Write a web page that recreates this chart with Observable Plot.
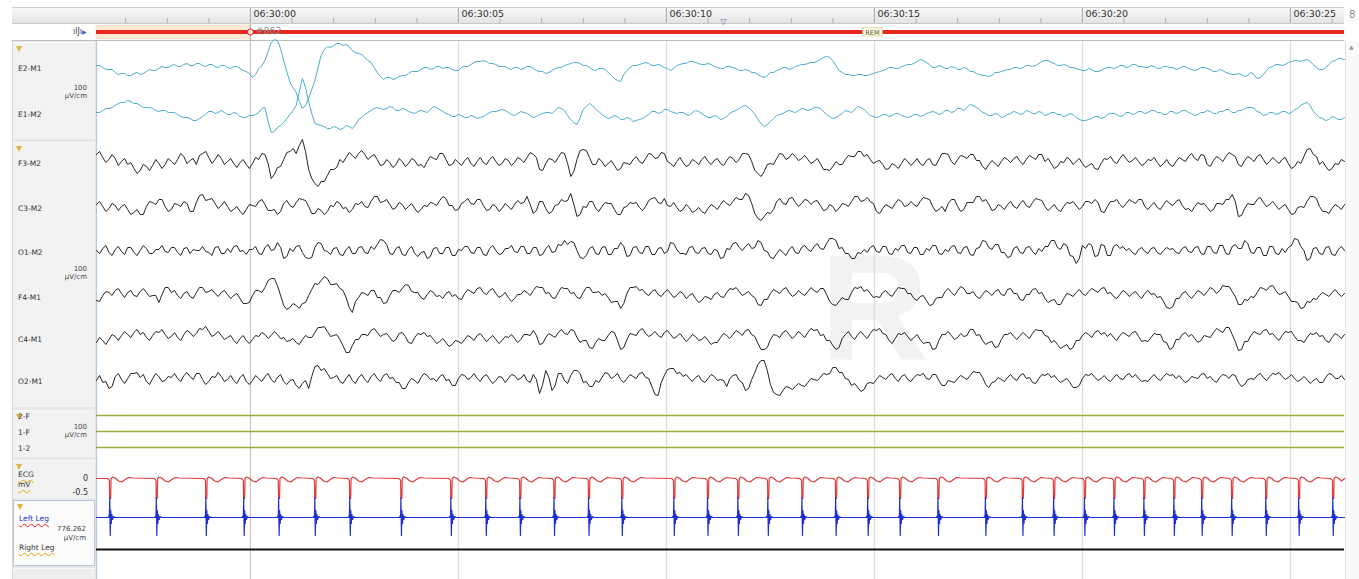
<!DOCTYPE html>
<html><head><meta charset="utf-8">
<script src="https://cdn.jsdelivr.net/npm/d3@7"></script>
<script src="https://cdn.jsdelivr.net/npm/@observablehq/plot@0.6"></script>
<style>
body{margin:0;background:#fff;font-family:"DejaVu Sans",Verdana,sans-serif;}
#wrap{position:relative;width:1359px;height:579px;overflow:hidden;background:#fff;}
#wrap svg{position:absolute;left:0;top:0;}
.abs{position:absolute;box-sizing:border-box;}
.lbl{position:absolute;font-size:7.5px;color:#333;white-space:nowrap;line-height:1;transform:translateY(-50%);}
</style></head><body>
<div id="wrap"></div>
<script>
// ---- time base (seconds relative to 06:30:00) ----
const epochStart = -3.7, epochEnd = 26.3, sampleStep = 0.15;
const tickTimes = [0, 5, 10, 15, 20, 25];
const tickLabels = ["06:30:00", "06:30:05", "06:30:10", "06:30:15", "06:30:20", "06:30:25"];
const epochs = [{n: 861, start: -30, end: 0, stage: "REM"}, {n: 862, start: 0, end: 30, stage: "REM"}];
const bookmarks = [11.37];

// ---- signals: deflection per sample (screen units, 100 µV/cm); *Mid = samples half-way between ----
const e2m1 = [3,1,-1,-4,-5,-7,-5,-6,-3,-2,0,1,3,2,4,3,5,3,4,2,3,1,2,0,-3,-9,
0,8,26,28,8,-14,-24,-40,-30,-12,13,22,23,25,24,18,15,11,6,-4,-11,-9,-10,-7,-5,
-3,-1,1,0,2,1,-1,-2,2,4,7,8,5,4,2,0,1,-1,2,0,-3,-5,-2,1,3,5,6,3,1,-2,0,-4,-10,-13,-2,3,4,6,3,4,1,-2,3,5,7,6,4,5,2,0,
2,1,-2,-1,-4,-6,-9,-4,-2,1,-1,2,4,5,6,9,12,8,-2,-6,-7,-6,-7,-6,-4,-2,1,0,2,4,5,9,6,1,3,0,2,-1,1,-3,-5,-7,-8,-4,-3,-1,1,0,3,2,
5,8,6,3,4,1,0,-2,0,-3,-2,1,0,3,1,4,2,1,3,0,2,1,-1,2,0,-2,1,0,-3,-1,-4,-6,-5,-8,-4,-10,-6,1,4,3,6,8,7,9,4,-1,1,7,10,9];
const e2m1Mid = [3,-1,-1,-6,-5,-7,-4,-5,-1,-2,2,1,4,2,5,3,5,2,4,1,3,0,2,-2,-5,-6,3,17,29,20,
-3,-19,-33,-37,-21,1,19,21,25,23,22,16,14,8,1,-8,-9,-11,-8,-7,-3,-3,1,-1,2,0,1,-2,1,2,
6,7,7,5,2,2,-1,1,0,2,-2,-3,-4,0,1,4,6,5,3,-1,0,-1,-7,-12,-6,1,3,5,5,3,3,0,0,4,5,7,5,4,4,1,
0,2,0,-2,-2,-4,-8,-7,-4,-1,1,0,3,4,6,7,11,11,3,-4,-6,-7,-6,-7,-5,-3,-1,1,0,3,4,7,8,4,1,2,0,1,-1,0,
-3,-6,-7,-7,-4,-2,-1,1,1,3,3,7,8,5,3,3,1,-1,-2,-1,-3,0,1,1,3,2,4,2,1,2,0,2,1,0,2,-1,-1,1,-1,-3,
-2,-5,-6,-6,-7,-6,-9,-2,2,4,4,7,8,8,7,1,-1,4,8,10];
const e1m2 = [1,3,5,8,11,13,10,8,6,5,2,3,1,-1,-4,-5,-7,-3,2,0,3,-1,1,-3,-4,-2,
1,6,-19,-14,-9,-1,8,35,12,-10,-12,-15,-13,-16,-12,-15,-6,-1,3,6,4,7,3,5,2,
0,3,1,7,4,0,-3,-1,-4,-2,-5,-3,1,2,4,1,-2,2,0,-4,-1,1,0,6,3,-6,-11,4,10,4,-1,-5,-2,-6,-4,-8,-6,-3,2,0,4,2,0,1,-2,3,0,-4,-2,-6,
-3,2,5,8,3,-6,-13,-8,-2,0,3,1,5,3,6,5,-1,-5,-2,3,1,7,4,-2,-4,-1,-3,0,-2,-4,-1,-3,0,2,-1,3,1,5,3,9,6,1,-2,0,-4,-1,2,-1,3,0,
2,-2,1,-1,-3,0,-4,-7,-6,-3,-5,-1,0,-3,1,-1,2,0,3,1,-1,2,0,3,1,-2,1,3,0,2,4,1,3,5,6,2,-2,1,-1,2,0,4,8,11,2,-4,-7,-3,-6,-4];
const e1m2Mid = [1,5,6,10,11,12,10,6,6,3,3,1,1,-3,-4,-7,-5,-1,2,1,1,-1,0,-4,-2,-1,5,-8,-18,-12,
-5,3,22,26,0,-11,-13,-15,-14,-15,-13,-11,-4,1,5,5,5,6,3,4,1,2,2,4,6,2,-1,-3,-2,-4,
-3,-4,-1,2,3,3,-1,0,1,-2,-3,0,1,3,5,-2,-9,-4,7,8,2,-3,-4,-3,-6,-5,-7,-5,-1,2,1,4,1,1,-1,1,2,-2,-4,-3,
-5,0,3,7,6,-1,-10,-11,-5,-1,2,2,3,4,4,6,2,-3,-4,0,2,4,6,1,-3,-3,-1,-2,0,-3,-3,-1,-2,1,1,0,3,2,5,6,
8,4,0,-2,-1,-3,0,1,0,2,0,1,-1,1,-1,-2,-1,-6,-7,-5,-3,-4,0,-1,-2,1,0,2,1,3,1,-1,2,1,3,0,-1,1,2,0,
2,4,1,3,6,5,1,-1,1,0,2,1,5,10,8,-1,-5,-6,-4,-6];
const f3m2 = [7,4,2,3,0,-3,-7,-9,-5,-4,-2,-3,0,2,5,1,-3,8,4,2,3,0,-2,-1,-3,-2,2,7,-17,-6,
2,10,8,22,-8,-22,-20,-14,-8,2,4,6,8,7,5,2,-3,-1,-3,0,-2,1,-3,0,3,8,2,-3,-1,1,
-2,0,-1,2,0,-2,1,-1,2,4,7,-8,-2,2,4,8,-15,2,12,4,-3,0,-2,-4,-7,-2,2,0,3,7,
4,8,-2,0,-1,-3,0,2,0,1,-2,1,3,2,8,0,-12,-10,-2,3,7,4,5,3,2,0,-2,-8,-5,-3,
2,5,10,5,2,0,-3,-7,-4,-2,0,-1,-2,1,-3,2,8,0,2,5,7,1,-5,-3,-2,0,2,3,0,2,
4,7,0,-2,-5,-1,2,0,-2,-4,-7,-2,2,0,3,3,1,0,-2,1,-1,-2,-3,0,2,5,3,7,-3,1,
3,5,7,-3,1,3,5,2,0,1,2,-2,-5,-2,12,7,-3,-5,-7,-3,0];
const f3m2Mid = [10,-1,7,-4,3,-1,-12,-3,-9,2,-7,3,-3,8,-2,3,6,10,-2,7,
-3,3,-6,2,-7,4,8,-2,-13,-5,9,13,16,10,-17,-25,-20,-8,-6,-1,
9,3,11,2,7,-4,2,-6,3,-5,3,-4,-6,5,2,8,-4,2,-4,4,
-5,4,-3,5,-4,3,-4,4,-1,9,4,-9,3,-1,9,-2,-10,11,11,-3,
3,-5,1,-9,-1,-3,5,-2,8,3,9,0,-5,4,-5,2,-3,5,-3,3,
-4,5,-1,8,7,-9,-15,-3,-3,8,2,8,1,6,-2,3,-8,-9,0,-3,
6,5,10,7,-2,1,-8,-2,-7,3,-4,3,-4,3,-4,8,7,-3,6,3,
7,1,-8,1,-5,4,-1,5,-3,6,2,7,3,-7,0,4,-3,3,-6,-2,
-8,3,5,-2,7,-1,4,-4,2,4,-5,2,-5,4,0,8,1,6,-5,5,
0,9,5,-5,5,0,7,-3,4,-2,4,-7,0,5,13,5,0,-9,-2,2];
const c3m2 = [2,0,-2,1,0,-3,-6,-8,0,4,7,0,-3,2,5,-5,4,12,7,3,1,0,-3,-5,-3,1,5,2,-4,-8,
3,1,4,7,0,-7,-4,-5,0,3,-1,-3,2,0,5,10,5,2,-1,2,0,-2,-3,0,3,6,8,1,-3,5,
3,7,1,-3,0,-2,0,2,3,10,-7,5,-2,-5,2,5,13,-10,0,5,-2,0,3,-3,-8,0,3,-1,0,8,
4,8,0,-1,-3,-1,-4,-5,-2,0,2,3,5,7,13,3,-12,-10,-7,5,3,8,4,3,6,5,1,-3,0,-2,
2,5,10,6,5,-5,-2,0,3,5,1,2,5,8,0,-3,-5,7,0,-3,4,10,5,2,-3,0,2,0,3,1,
4,7,0,-1,-3,0,3,1,0,5,7,-5,0,5,2,3,5,7,0,1,-1,2,3,5,1,-2,0,2,-1,-3,
3,7,12,-10,-2,2,7,4,2,1,0,-3,-7,0,5,10,0,-5,-2,0,2];
const c3m2Mid = [5,-5,3,-4,2,-8,-3,-8,5,2,7,-5,3,0,3,-5,11,6,8,-2,
5,-5,0,-8,2,0,7,-4,-3,-5,6,-1,8,6,-7,-2,-8,1,5,-2,
-6,3,5,-1,10,4,7,-3,4,-3,3,-6,1,4,1,10,1,-4,3,8,
2,7,-4,2,-5,3,-3,6,4,2,-4,5,-7,1,7,6,2,-8,-1,5,
-5,4,3,-8,-1,4,4,-4,6,9,3,1,4,-5,2,-6,-1,-7,2,-3,
6,1,9,7,11,-7,-14,-6,-3,8,2,9,0,7,2,6,-4,2,-5,3,
0,10,5,9,3,-7,2,-2,7,0,5,0,9,7,-5,0,3,7,-5,4,
4,10,7,-4,2,-3,5,-2,6,-1,8,6,-4,2,-5,4,5,-3,5,3,
4,-6,5,7,-1,7,3,7,-3,4,-3,6,1,7,-3,-5,4,3,-5,3,
2,7,5,-9,3,2,9,0,5,-3,2,-8,-1,-1,10,8,-5,-7,2,-3];
const o1m2 = [0,2,-2,1,-1,3,-2,0,2,-3,1,-1,3,-2,2,-3,0,4,-2,3,-3,2,4,-1,-4,1,-3,3,0,8,
-8,2,4,-2,-8,3,7,-1,2,-4,1,-3,3,-2,4,6,10,-3,2,-4,1,-3,-2,-8,2,-3,3,-5,1,4,
-2,3,-4,2,0,-3,2,-1,4,-3,3,-5,2,-2,6,10,9,0,-8,2,-3,3,-4,2,8,-6,3,-2,4,-4,
2,-3,8,1,-3,3,-2,2,-3,1,-8,2,7,3,4,2,10,0,-7,-3,-2,1,-2,3,1,4,2,7,12,2,
-3,-8,-2,1,3,-1,4,-3,2,5,-2,3,-4,2,5,-3,1,4,-2,3,-4,2,10,3,6,-2,-7,2,-2,3,
-1,2,4,10,3,7,-5,-13,5,7,-6,6,-5,4,2,0,-2,1,-1,2,-2,0,1,-2,2,-1,3,-3,4,-2,
5,-3,4,2,10,-2,3,-5,4,-3,2,3,12,4,-10,2,-3,3,-4,1,0];
const o1m2Mid = [-3,5,-5,4,-4,3,-5,5,-3,1,5,-2,3,-5,3,1,0,-1,-5,4,
-3,-2,5,0,1,4,-4,6,1,3,-6,-1,5,-7,-7,8,0,-4,3,-5,
4,-3,4,-3,1,11,6,-4,4,-5,4,-6,-1,-6,3,-3,3,-5,0,4,
-3,3,-5,5,-4,2,5,-2,4,-3,3,-4,5,-1,5,6,8,-7,-5,4,
-4,4,-4,2,4,-5,4,-3,4,-4,3,-1,7,-3,-4,4,-3,3,-4,0,
-7,1,8,0,7,3,8,-1,-8,1,-5,4,-3,5,-1,7,1,12,10,3,
-3,-8,-3,-2,5,-2,4,-4,0,5,-3,3,-4,0,5,-4,-1,5,-3,4,
-5,3,9,1,6,-2,-6,4,-3,4,-4,-1,4,10,1,5,-6,-8,2,5,
-5,5,-5,6,4,2,-4,3,-3,3,-4,3,2,-3,4,-2,4,-4,4,-3,
5,-4,6,2,7,-3,3,-5,4,-4,-2,5,11,0,-8,3,-4,4,-5,4];
const f4m1 = [-5,0,3,5,2,3,0,4,3,0,-7,8,3,0,2,-1,3,8,4,2,3,1,0,-3,-8,0,5,8,17,10,
-10,-12,-10,-8,0,12,15,17,11,7,-2,-17,-2,2,5,-2,-8,0,5,7,10,3,-2,1,3,0,2,-1,-3,2,
4,7,3,5,2,0,-2,-3,1,3,5,8,2,-2,3,7,2,-2,3,8,3,0,-2,-6,-13,2,8,5,2,4,
1,3,2,0,2,0,-3,-5,-2,1,-1,3,6,4,2,0,-9,-4,2,4,6,3,1,2,4,5,7,1,-9,-6,
-4,3,7,4,2,-1,3,1,4,7,2,-3,-1,-5,-9,-2,4,3,5,7,2,-1,1,3,4,1,6,2,-4,1,
6,2,-3,-5,-9,-3,1,3,2,4,5,7,2,-1,1,3,2,0,2,1,-2,-6,-13,-3,2,0,1,3,4,6,
5,9,4,-9,-4,-1,3,7,9,5,2,-1,-6,-13,-6,-3,0,1,3,2,2];
const f4m1Mid = [-6,4,0,7,-2,5,-1,7,-1,0,1,8,5,-3,4,-3,8,3,6,-1,
5,-3,2,-8,-7,5,3,15,17,0,-14,-8,-13,-7,6,11,19,11,12,5,
-12,-6,3,0,5,-2,-7,5,3,11,4,3,-4,5,-1,-3,4,1,-4,6,
2,8,1,7,-2,3,-6,1,5,0,9,8,3,-3,8,7,3,-3,8,3,
4,2,-7,-6,-8,8,9,6,0,6,-1,6,-2,4,-3,2,-7,-1,-4,3,
-2,7,8,0,4,-2,-10,-4,6,2,8,-1,5,0,8,3,7,-6,-10,-2,
-4,8,9,6,-2,-2,5,-1,8,7,2,-5,0,-10,-3,-2,7,0,9,2,
4,-3,5,0,6,0,7,2,-5,1,7,3,-7,-4,-9,2,-1,6,0,7,
3,8,3,-3,5,-1,4,-3,5,2,-1,-12,-11,-3,4,-3,5,0,8,2,
10,9,-1,-9,-5,-2,8,5,10,1,4,-6,-7,-12,-7,-4,3,-1,6,-1];
const c4m1 = [-5,-3,-2,1,2,3,5,3,0,2,5,3,1,0,3,5,4,8,6,3,2,0,-3,-1,-3,-2,1,3,2,3,
0,-3,-5,-2,0,5,10,6,2,-2,-15,-8,-2,3,7,5,3,0,-2,5,-5,0,3,1,-2,-4,-5,-7,-4,-2,
0,2,0,-1,-2,-3,0,-1,-2,3,7,-7,0,2,5,4,8,0,-3,-10,-5,-3,2,5,-12,-2,3,7,4,3,
2,5,3,1,0,-1,1,-2,-3,-5,0,2,3,5,7,3,-6,-12,-2,2,5,3,2,3,5,7,2,-3,-8,-10,
3,1,3,2,4,7,4,-3,-1,3,1,0,-2,-5,-12,-3,3,2,0,1,8,2,-3,-5,-10,-2,3,1,2,2,
4,7,2,-5,-7,-9,-12,-3,2,3,5,3,1,0,2,3,5,1,-3,0,3,-4,-12,-2,3,1,-1,-3,1,5,
7,10,3,-13,-4,2,4,7,3,0,2,5,1,-3,0,3,1,-3,0,2,3];
const c4m1Mid = [0,-7,3,-3,6,0,8,5,-3,6,8,-1,5,-3,7,1,9,11,1,6,
-2,2,-6,2,-6,2,5,-1,6,-1,-4,-1,-7,2,0,10,11,1,3,-8,
-15,-2,3,2,9,1,4,-4,4,1,-6,4,5,2,-6,-1,-9,-3,-6,2,
-3,4,-4,2,-6,1,3,-5,3,2,2,-6,4,0,8,3,7,-5,-3,-11,
-1,-3,6,-3,-10,4,2,9,1,6,0,7,-1,4,-4,3,-3,1,-7,-5,
4,-1,7,2,8,1,-12,-10,3,0,7,-1,6,0,9,8,3,-3,-12,-1,
6,-2,6,-1,8,9,3,-6,4,5,-3,3,-6,-5,-11,3,6,-2,4,2,
8,3,-7,-4,-9,3,5,-2,5,-1,8,7,1,-3,-11,-7,-10,-3,5,0,
7,5,4,-3,5,1,6,-4,-4,4,3,-5,-10,-2,5,3,-5,2,0,9,
5,10,-4,-12,-4,6,3,8,4,-3,6,6,-3,-5,4,5,2,-5,4,-1];
const o2m1 = [-2,-4,-10,2,-1,0,5,1,-3,0,2,-2,1,0,3,2,5,-1,-3,1,2,-1,-2,1,-3,-2,0,2,-1,1,
-3,-2,-7,-5,-10,12,8,5,1,-3,0,-2,1,-1,2,0,3,0,-4,-10,-4,-2,1,3,0,2,-2,-7,0,3,
1,0,2,-1,-2,1,0,3,0,-2,4,-15,8,-12,5,-2,3,8,-4,-8,-2,1,5,2,-1,0,2,5,1,-8,
-17,3,10,5,2,0,1,-2,0,2,-1,-8,3,-2,-12,-1,14,18,-6,-16,-12,-9,-8,-7,-4,-1,1,4,11,6,
0,-7,-9,-11,-4,-1,1,3,0,2,-1,1,3,0,4,-2,-7,-3,0,1,3,6,1,-9,-3,-1,1,0,3,0,
-4,0,3,1,-1,-2,-4,-9,0,3,1,0,-1,1,0,3,1,0,-2,1,0,2,3,0,-1,-2,1,4,0,-2,
1,3,4,-4,-6,0,3,1,2,4,2,1,0,-1,-1,-2,-4,1,4,0,-1];
const o2m1Mid = [3,-3,-8,5,-5,5,6,4,-6,5,-3,2,5,-3,6,-1,5,-6,2,6,
-3,3,-5,4,-6,3,-3,5,-4,4,-6,-1,-10,-2,2,13,10,0,3,-5,
4,-5,4,-4,5,-3,5,1,-4,-10,0,-5,5,-1,-3,4,-1,-7,4,-1,
5,-3,4,-5,2,-4,4,-1,4,-4,-1,-6,1,-7,5,-5,8,5,-3,-8,
-4,6,0,5,-4,4,0,6,0,-16,-4,9,10,6,4,-3,3,-4,4,-2,
-2,0,4,-4,-10,6,18,8,-14,-17,-8,-11,-5,-8,0,-2,5,5,11,6,
-1,-5,-13,-5,-5,3,-1,5,-3,4,-3,4,5,-1,4,-7,-2,-4,3,-1,
7,6,-6,-4,1,-3,4,-2,5,1,-5,4,5,3,-4,0,-9,-7,4,5,
-2,3,-3,4,-1,5,4,-3,-3,4,-2,5,4,3,-4,2,0,5,2,-4,
4,0,3,-8,-1,-1,5,-2,5,6,-1,4,-3,2,-5,0,-4,5,0,3];

const ecgBeats = [-3.39,-2.27,-1.08,-0.17,0.67,1.54,2.38,3.61,4.81,5.65,6.47,7.29,8.12,8.92,10.17,10.98,11.71,12.43,13.25,14.06,14.83,15.60,16.52,17.66,18.55,19.30,20.04,20.75,21.47,22.19,22.86,23.58,24.40,25.19,26.01];
const ecgShape = [[-0.05,0],[-0.015,-1],[0,-2],[0.006,-20],[0.03,-20],[0.04,0],[0.08,1.5],[0.14,0.5],[0.22,-2.5],[0.3,-3.5],[0.38,-1],[0.46,1],[0.56,0.5]];
const legShape = [[-0.03,0],[-0.012,1.5],[0,0],[0.008,20],[0.02,-18],[0.032,7],[0.045,-6],[0.06,3],[0.075,-2],[0.1,1],[0.13,0]];

// ---- channel layout (vertical lane of each channel) ----
const lanes = {"E2-M1":68,"E1-M2":113,"F3-M2":161,"C3-M2":206,"O1-M2":250,"F4-M1":295,"C4-M1":337,"O2-M1":378,
  "2-F":415,"1-F":431,"1-2":447,"ECG":478,"Left Leg":517,"Right Leg":549};
const eogSignals = {"E2-M1": [e2m1, e2m1Mid], "E1-M2": [e1m2, e1m2Mid]};
const eegSignals = {"F3-M2": [f3m2, f3m2Mid], "C3-M2": [c3m2, c3m2Mid], "O1-M2": [o1m2, o1m2Mid],
  "F4-M1": [f4m1, f4m1Mid], "C4-M1": [c4m1, c4m1Mid], "O2-M1": [o2m1, o2m1Mid]};
const chinChannels = ["2-F", "1-F", "1-2"];

const toRows = sigs => Object.entries(sigs).flatMap(([ch, [even, mid]]) => {
  const rows = [];
  even.forEach((v, i) => {
    rows.push({ch, t: epochStart + i * sampleStep, y: lanes[ch] - v});
    if (i < mid.length) rows.push({ch, t: epochStart + (i + 0.5) * sampleStep, y: lanes[ch] - mid[i]});
  });
  return rows;
});
function beatSeries(ch, beats, shape) {
  const pts = [{t: epochStart, v: 0}];
  for (const b of beats) for (const [dt, v] of shape) {
    const t = b + dt; if (t > epochStart && t < epochEnd) pts.push({t, v});
  }
  pts.push({t: epochEnd, v: 0});
  pts.sort((a, b) => a.t - b.t);
  return pts.map(p => ({ch, t: p.t, y: lanes[ch] - p.v}));
}
const minorTicks = d3.range(-3, 27).filter(s => s % 5 !== 0);
const clampStart = d => Math.max(d.start, epochStart), clampEnd = d => Math.min(d.end, epochEnd);
const visibleEpochs = epochs.filter(d => d.end > epochStart && d.start < epochEnd);
const F = "DejaVu Sans";

const wrap = document.getElementById("wrap");
function box(css) { const e = document.createElement("div"); e.className = "abs"; e.style.cssText = css; wrap.appendChild(e); return e; }
box("left:12px;top:7px;width:1332px;height:17px;background:linear-gradient(#f8f8f8,#e3e3e3);border-top:1px solid #cfcfcf;border-bottom:1px solid #c8c8c8;");
box("left:12px;top:24px;width:1332px;height:17px;background:#fff;border-bottom:1px solid #bdbdbd;");
box("left:12px;top:41px;width:84px;height:538px;background:#e7e7e7;border-left:1px solid #d6d6d6;");
box("left:1345px;top:41px;width:14px;height:538px;background:#fafafa;border-left:1px solid #e4e4e4;");

const chart = Plot.plot({
  width: 1359, height: 579, margin: 0,
  x: {domain: [epochStart, epochEnd], range: [96, 1344], axis: null},
  y: {domain: [0, 579], range: [0, 579], axis: null},
  style: {background: "none", overflow: "visible", fontFamily: F},
  marks: [
    Plot.text(["R"], {x: 15, y: 310, text: d => d, fontSize: 150, fontWeight: "bold", fontFamily: "Liberation Sans", fill: "#f2f2f2"}),
    Plot.rect(visibleEpochs.filter(d => d.end <= 0), {x1: clampStart, x2: clampEnd, y1: 25, y2: 39, fill: "#fbe9d6", stroke: "#e9c9a9", strokeDasharray: "1,1", strokeWidth: 0.6}),
    Plot.ruleX(tickTimes, {y1: 41, y2: 579, stroke: d => d === 0 ? "#d7c6be" : "#dddddd", strokeWidth: 1.3}),
    Plot.ruleX([0], {y1: 24, y2: 41, stroke: "#cdb6ab", strokeWidth: 1.3}),
    Plot.ruleX([epochStart], {y1: 41, y2: 579, stroke: "#b5c9df", strokeWidth: 1.2}),
    Plot.ruleX(tickTimes, {y1: 8, y2: 23, stroke: "#a8a8a8", strokeWidth: 1}),
    Plot.ruleX(minorTicks, {y1: 18, y2: 23, stroke: "#b0b0b0", strokeWidth: 1}),
    Plot.text(tickTimes, {x: d => d, y: 13.5, text: (d, i) => tickLabels[i], textAnchor: "start", dx: 3, fontSize: 9.5, fill: "#333"}),
    Plot.text(bookmarks, {x: d => d, y: 21, text: () => "▽", fontSize: 8, fill: "#5b72c2"}),
    Plot.ruleY(visibleEpochs, {y: 31.5, x1: clampStart, x2: clampEnd, stroke: "#e8261e", strokeWidth: 4}),
    Plot.dot(visibleEpochs.filter(d => d.start >= epochStart), {x: "start", y: 31.5, r: 3, stroke: "#e8261e", fill: "#fbe3da", strokeWidth: 1}),
    Plot.text(visibleEpochs.filter(d => d.start >= epochStart), {x: "start", y: 30, text: d => "#" + d.n, textAnchor: "start", dx: 5, fontSize: 9.5, fill: "#8c8c8c"}),
    Plot.rect(visibleEpochs.filter(d => (d.start + d.end) / 2 > epochStart), {x1: d => (d.start + d.end) / 2 - 0.27, x2: d => (d.start + d.end) / 2 + 0.2, y1: 27.5, y2: 36, fill: "#fdf8e4", stroke: "#d6cfa8", strokeWidth: 0.8}),
    Plot.text(visibleEpochs.filter(d => (d.start + d.end) / 2 > epochStart), {x: d => (d.start + d.end) / 2, y: 32, dx: -2, text: "stage", fontSize: 6.5, fill: "#4d5a2a"}),
    Plot.line(toRows(eogSignals), {x: "t", y: "y", z: "ch", stroke: "#4aadca", strokeWidth: 1}),
    Plot.line(toRows(eegSignals), {x: "t", y: "y", z: "ch", stroke: "#161616", strokeWidth: 0.95}),
    Plot.ruleY(chinChannels, {y: d => lanes[d], x1: epochStart, x2: epochEnd, stroke: "#9aae3c", strokeWidth: 1.6}),
    Plot.line(beatSeries("ECG", ecgBeats, ecgShape), {x: "t", y: "y", stroke: "#e23b3b", strokeWidth: 1.2}),
    Plot.line(beatSeries("Left Leg", ecgBeats, legShape), {x: "t", y: "y", stroke: "#1f2fd6", strokeWidth: 1.2}),
    Plot.ruleY(["Right Leg"], {y: d => lanes[d], x1: epochStart, x2: epochEnd, stroke: "#111", strokeWidth: 2})
  ]
});
wrap.appendChild(chart);

// ---- left channel panel ----
const panelBoxes = [
  {top: 42, bottom: 139, fill: "#f2f2f2"}, {top: 142, bottom: 407, fill: "#f2f2f2"},
  {top: 410, bottom: 457, fill: "#f2f2f2"}, {top: 460, bottom: 498, fill: "#f2f2f2"},
  {top: 500, bottom: 566, fill: "#fbfbfb", border: "#b7c6da"}, {top: 568, bottom: 579, fill: "#eeeeee"}
];
const boxes = panelBoxes.map((b, i) => {
  const e = box(`left:13px;top:${b.top}px;width:82px;height:${b.bottom - b.top}px;background:${b.fill};overflow:hidden;` +
    (b.border ? `border:1px solid ${b.border};` : "border-top:1px solid #fafafa;"));
  if (i < 5) {
    const f = document.createElement("div");
    f.style.cssText = "position:absolute;left:3px;top:3px;width:0;height:0;border-left:3.5px solid transparent;border-right:3.5px solid transparent;border-top:6px solid #e2b23c;";
    e.appendChild(f);
  }
  return {el: e, top: b.top};
});
function label(bi, text, x, y, css = "", right = false) {
  const s = document.createElement("span");
  s.className = "lbl"; s.textContent = text;
  s.style.cssText = (right ? `right:${95 - x}px;` : `left:${x - 13}px;`) + `top:${y - boxes[bi].top}px;` + css;
  boxes[bi].el.appendChild(s);
}
const channelLabels = [[0,"E2-M1",68],[0,"E1-M2",114],[1,"F3-M2",163],[1,"C3-M2",208],[1,"O1-M2",252],[1,"F4-M1",297],
  [1,"C4-M1",339],[1,"O2-M1",381],[2,"2-F",416],[2,"1-F",432],[2,"1-2",448]];
channelLabels.forEach(([b, t, y]) => label(b, t, 18, y));
const unitLabels = [[0, "100", 87], [0, "µV/cm", 95], [1, "100", 268], [1, "µV/cm", 276], [2, "100", 426], [2, "µV/cm", 434],
  [4, "776.262", 528], [4, "µV/cm", 537]];
unitLabels.forEach(([b, t, y]) => label(b, t, 87, y, "font-size:7px;color:#444;text-align:center;", true));
const wavy = c => `text-decoration:underline wavy ${c};text-decoration-thickness:1px;text-underline-offset:1.5px;`;
label(3, "ECG", 18, 474, wavy("#e0a400"));
label(3, "mV", 18, 484, wavy("#e0a400"));
label(3, "0", 88, 478, "font-size:8px;", true);
label(3, "-0.5", 88, 492, "font-size:8px;", true);
label(4, "Left Leg", 18, 518, "color:#1f2fd0;" + wavy("#e02020"));
label(4, "Right Leg", 18, 547, wavy("#e0a400"));

const icon = document.createElement("span");
icon.className = "lbl"; icon.style.cssText = "left:73px;top:32px;font-size:8px;color:#444;";
icon.innerHTML = 'ılJı<span style="color:#3a64d0;font-size:6px">▶</span>';
wrap.appendChild(icon);
const link = document.createElement("span");
link.className = "lbl"; link.style.cssText = "left:1349px;top:15px;font-size:10px;color:#8a8a8a;";
link.textContent = "8"; wrap.appendChild(link);
const up = document.createElement("span");
up.className = "lbl"; up.style.cssText = "left:1349px;top:47px;font-size:6px;color:#999;";
up.textContent = "▲"; wrap.appendChild(up);
</script>
</body></html>
